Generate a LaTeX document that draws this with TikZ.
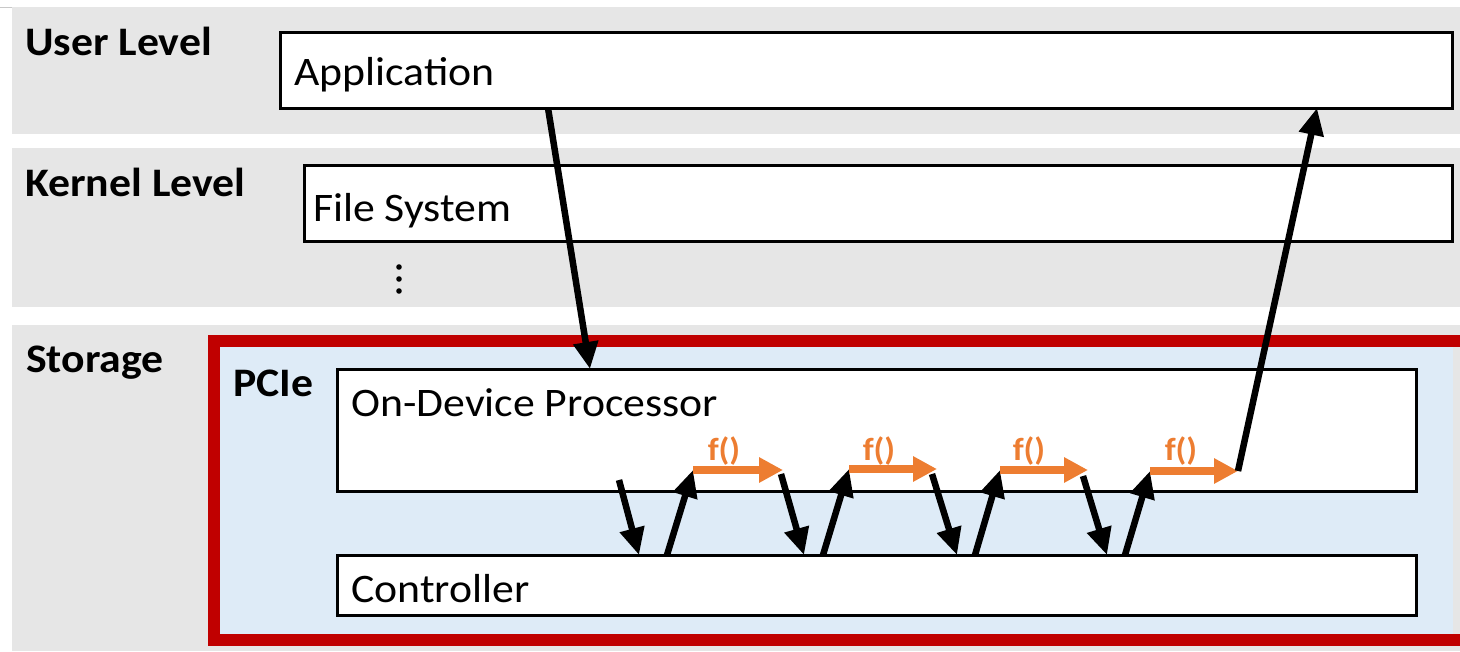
\documentclass[tikz,border=0pt]{standalone}
\usepackage{graphicx}
\usepackage{fontspec}
\setmainfont{Carlito}
\usetikzlibrary{arrows.meta,calc}

\definecolor{bandgray}{RGB}{230,230,230}
\definecolor{rulegray}{RGB}{200,200,200}
\definecolor{pcieblue}{RGB}{222,235,247}
\definecolor{pciered}{RGB}{192,0,0}
\definecolor{fnorange}{RGB}{237,125,49}

% text is set slightly wide
\newcommand{\widetext}[1]{\scalebox{1.08}[1]{#1}}

\tikzset{
  band/.style={fill=bandgray, draw=none},
  box/.style={draw=black, line width=3pt, fill=white, inner sep=0pt, outer sep=0pt, anchor=north west},
  lvl/.style={font=\bfseries\fontsize{40.5}{48}\selectfont, anchor=base west, inner sep=0pt},
  boxname/.style={font=\fontsize{40.5}{48}\selectfont, anchor=base west, inner sep=0pt},
  fn/.style={font=\bfseries\fontsize{32}{38}\selectfont, text=fnorange, anchor=base, inner sep=0pt},
  blk/.style={draw=black, line width=6.5pt, -{Triangle[length=27pt,width=24pt]}},
  org/.style={draw=fnorange, line width=8pt, -{Triangle[length=24pt,width=24pt]}},
}

\begin{document}
\begin{tikzpicture}[x=1pt, y=-1pt]
\useasboundingbox (0,0) rectangle (1460,651);

% layer bands
\draw[rulegray, line width=1pt] (0,7) -- (1460,7);
\fill[band] (12,7) rectangle (1460,134);
\fill[band] (12,148) rectangle (1460,307);
\fill[band] (12,325) rectangle (1460,651);

% PCIe device frame
\fill[pcieblue] (220,347) rectangle (1453,634);
\draw[pciered, line width=12pt] (1460,341) -- (214,341) -- (214,640) -- (1460,640);

% layer labels
\node[lvl] (user) at (25,55) {\widetext{User Level}};
\node[lvl] (kernel) at (25,196) {\widetext{Kernel Level}};
\node[lvl] (storage) at (26,372) {\widetext{Storage}};
\node[lvl] (pcie) at (233,396) {\widetext{PCIe}};

% boxes
\node[box, minimum width=1172pt, minimum height=76pt] (app) at (280,32) {};
\node[box, minimum width=1148pt, minimum height=76pt] (fs) at (304,165) {};
\node[box, minimum width=1079pt, minimum height=122pt] (odp) at (337,369) {};
\node[box, minimum width=1079pt, minimum height=60pt] (ctrl) at (337,555) {};

\node[boxname] (apptxt) at (294,85) {\widetext{Application}};
\node[boxname] (fstxt) at (313,221) {\widetext{File System}};
\node[boxname] (odptxt) at (351,416) {\widetext{On-Device Processor}};
\node[boxname] (ctrltxt) at (351,602) {\widetext{Controller}};

% vertical ellipsis under the file system
\foreach \dy [count=\i] in {267,279,291}
  \fill (399,\dy) circle (2.8pt) coordinate (dot\i);

% waypoints of the offloaded functions
\coordinate (f1s) at (693,470);
\coordinate (f1e) at (783,470);
\coordinate (f2s) at (849,469);
\coordinate (f2e) at (937,469);
\coordinate (f3s) at (1000,470);
\coordinate (f3e) at (1088,470);
\coordinate (f4s) at (1150,471);
\coordinate (f4e) at (1238,471);
\coordinate (d1) at (619,480);
\coordinate (d2) at (781,474);
\coordinate (d3) at (932,474);
\coordinate (d4) at (1083,476);

% request from the application to the device
\draw[blk] (548,0 |- app.south) -- (590,0 |- odp.north);

% processor <-> controller round trips
\draw[blk] (d1) -- (639,0 |- ctrl.north);
\draw[blk] (667,0 |- ctrl.north) -- (f1s);
\draw[org] (f1s) -- (f1e);
\draw[blk] (d2) -- (804,0 |- ctrl.north);
\draw[blk] (823,0 |- ctrl.north) -- (f2s);
\draw[org] (f2s) -- (f2e);
\draw[blk] (d3) -- (957,0 |- ctrl.north);
\draw[blk] (975,0 |- ctrl.north) -- (f3s);
\draw[org] (f3s) -- (f3e);
\draw[blk] (d4) -- (1107,0 |- ctrl.north);
\draw[blk] (1125,0 |- ctrl.north) -- (f4s);
\draw[org] (f4s) -- (f4e);

\node[fn] (fn1) at (724,460) {\widetext{f()}};
\node[fn] (fn2) at (879,460) {\widetext{f()}};
\node[fn] (fn3) at (1029,460) {\widetext{f()}};
\node[fn] (fn4) at (1181,460) {\widetext{f()}};

% result back to the application
\draw[blk] (f4e) -- (1317,0 |- app.south);
\end{tikzpicture}
\end{document}
